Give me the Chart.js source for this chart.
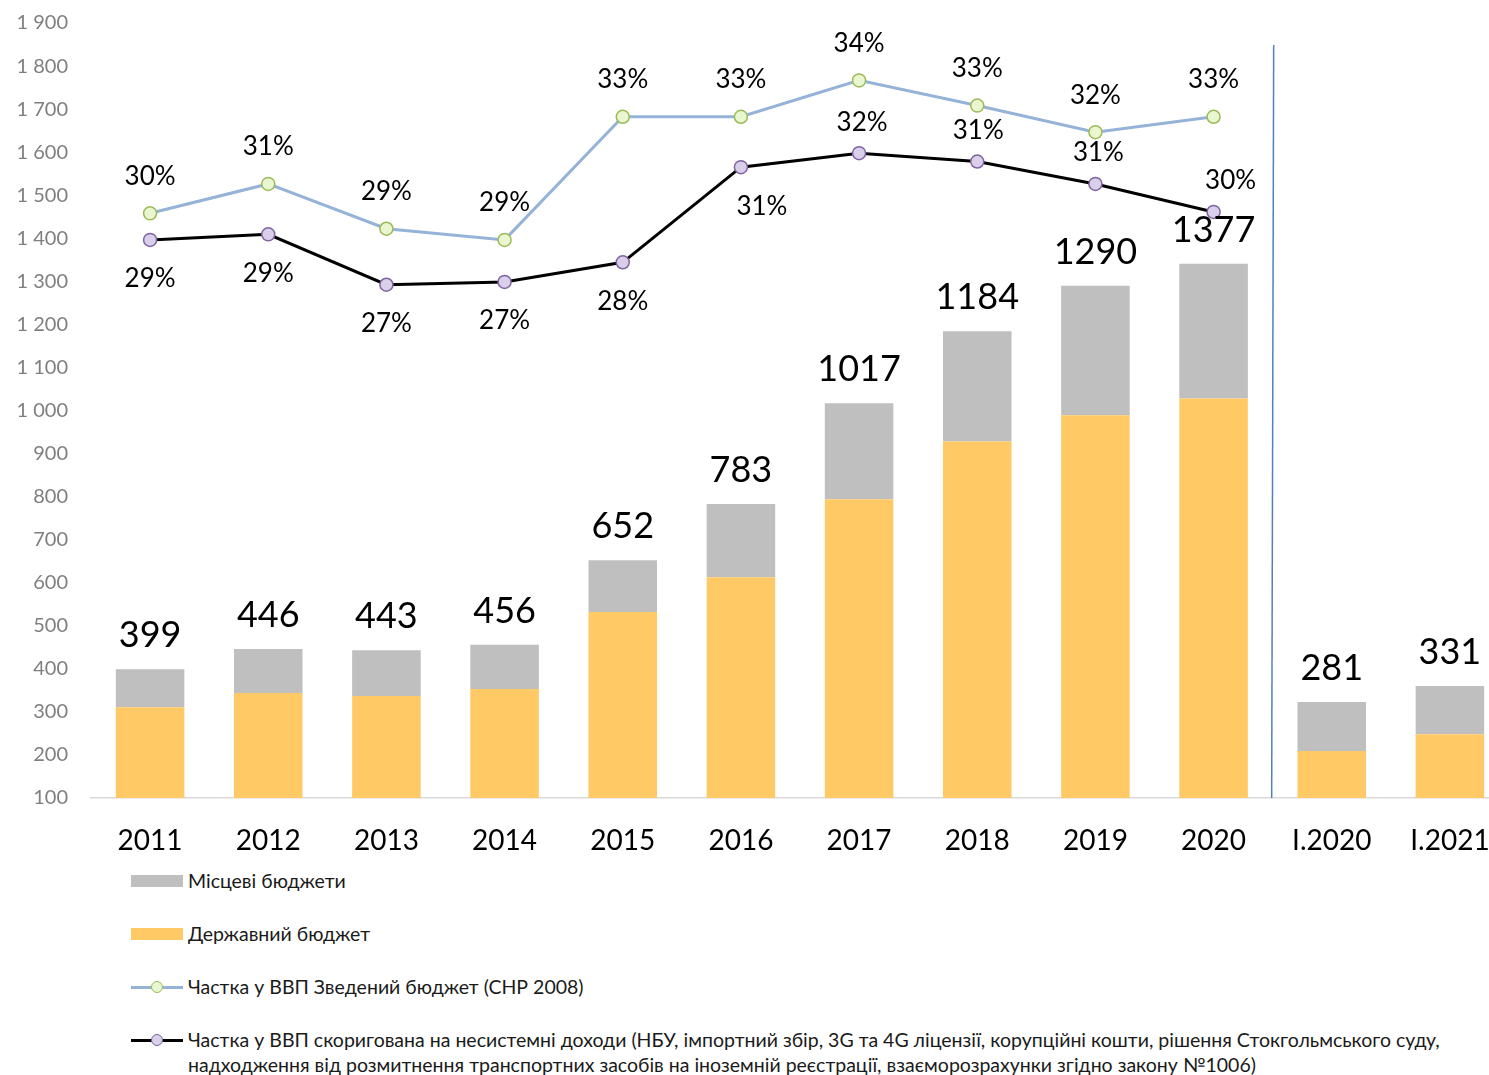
<!DOCTYPE html>
<html>
<head>
<meta charset="utf-8">
<script src="https://cdn.jsdelivr.net/npm/chart.js@4"></script>
<style>
  html, body { margin: 0; padding: 0; background: #fff; overflow: hidden; }
  #wrap { position: relative; width: 1517px; height: 1075px; }
  #budgetChart { display: block; position: relative; top: -12px; }
  #legend { position: absolute; left: 131px; top: 866px; width: 1358px; font-family: Lato, sans-serif; font-size: 19.5px; color: #1a1a1a; }
  .item { display: flex; align-items: flex-start; height: 53px; }
  .sw { width: 52px; height: 30px; flex: none; position: relative; }
  .sw .rect { position: absolute; left: 0; top: 9px; width: 52px; height: 12px; }
  .sw .line { position: absolute; left: 0; top: 14px; width: 52px; height: 3px; }
  .sw .dot { position: absolute; left: 20px; top: 9px; width: 10px; height: 10px; border-radius: 50%; border: 1.5px solid; }
  .txt { line-height: 25px; padding-top: 2px; padding-left: 5px; }
</style>
</head>
<body>
<div id="wrap">
  <canvas id="budgetChart" width="1517" height="877"></canvas>
  <div id="legend"></div>
</div>
<script>
// категорії
const labels = ['2011','2012','2013','2014','2015','2016','2017','2018','2019','2020','I.2020','I.2021'];

// млрд грн (прочитано з висоти стовпців)
const stateBudget = [311, 344, 337, 353, 532, 613, 794, 928, 989, 1028, 209, 248];
const localBudgets = [88, 102, 106, 103, 120, 170, 223, 256, 301, 313, 114, 112];
// підписи над стовпцями
const totalLabels = [399, 446, 443, 456, 652, 783, 1017, 1184, 1290, 1377, 281, 331];

// частка у ВВП, %
const shareConsolidated = [29.55, 30.6, 29.0, 28.6, 33.0, 33.0, 34.3, 33.4, 32.45, 33.0, null, null];
const shareAdjusted = [28.6, 28.8, 27.0, 27.1, 27.8, 31.2, 31.7, 31.4, 30.6, 29.6, null, null];

const yTicks = { min: 100, max: 1900, step: 100 };

// розміщення підписів лінії "скоригована"
const adjustedLabelPos = ['below','below','below','below','below','below','above','above','above','above'];
const adjustedLabelDx = [0, 0, 0, 0, 0, 21, 3, 1, 3, 17];

const FONT = 'Lato, sans-serif';

const labelsPlugin = {
  id: 'valueLabels',
  afterDatasetsDraw(chart) {
    const ctx = chart.ctx;
    ctx.save();
    ctx.fillStyle = '#000';
    ctx.textAlign = 'center';

    // підписи сум над стовпцями
    const topMeta = chart.getDatasetMeta(1);
    ctx.font = '36px ' + FONT;
    ctx.textBaseline = 'alphabetic';
    topMeta.data.forEach((bar, i) => {
      ctx.fillText(String(totalLabels[i]), bar.x, bar.y - 22);
    });

    // відсотки
    ctx.font = '26px ' + FONT;
    ctx.textBaseline = 'middle';
    chart.getDatasetMeta(2).data.forEach((pt, i) => {
      const v = shareConsolidated[i];
      if (v == null) return;
      ctx.fillText(Math.round(v) + '%', pt.x, pt.y - 37);
    });
    chart.getDatasetMeta(3).data.forEach((pt, i) => {
      const v = shareAdjusted[i];
      if (v == null) return;
      const dy = adjustedLabelPos[i] === 'above' ? -31 : 39;
      ctx.fillText(Math.round(v) + '%', pt.x + adjustedLabelDx[i], pt.y + dy);
    });
    ctx.restore();
  }
};

// вертикальна лінія між річними та квартальними даними
const separatorPlugin = {
  id: 'separator',
  afterDatasetsDraw(chart) {
    const x = chart.scales.x;
    const xs = (x.getPixelForValue(9) + x.getPixelForValue(10)) / 2;
    const ctx = chart.ctx;
    ctx.save();
    ctx.strokeStyle = '#4F81BD';
    ctx.lineWidth = 1.5;
    ctx.beginPath();
    ctx.moveTo(xs + 1, 57);
    ctx.lineTo(xs - 1, chart.chartArea.bottom);
    ctx.stroke();
    ctx.restore();
  }
};

const datasets = [
  {
    type: 'bar',
    label: 'Державний бюджет',
    data: stateBudget,
    backgroundColor: '#FFCA66',
    stack: 'b',
    order: 2,
    barPercentage: 0.58,
    categoryPercentage: 1
  },
  {
    type: 'bar',
    label: 'Місцеві бюджети',
    data: localBudgets,
    backgroundColor: '#BFBFBF',
    stack: 'b',
    order: 2,
    barPercentage: 0.58,
    categoryPercentage: 1
  },
  {
    type: 'line',
    label: 'Частка у ВВП Зведений бюджет (СНР 2008)',
    data: shareConsolidated,
    yAxisID: 'y2',
    borderColor: '#95B3D7',
    borderWidth: 3,
    pointRadius: 6.5,
    pointBorderWidth: 1.5,
    pointBackgroundColor: '#EAF6CF',
    pointBorderColor: '#9BBB59',
    tension: 0,
    order: 0
  },
  {
    type: 'line',
    label: 'Частка у ВВП скоригована на несистемні доходи (НБУ, імпортний збір, 3G та 4G ліцензії, корупційні кошти, рішення Стокгольмського суду, надходження від розмитнення транспортних засобів на іноземній реєстрації, взаєморозрахунки згідно закону №1006)',
    data: shareAdjusted,
    yAxisID: 'y2',
    borderColor: '#000000',
    borderWidth: 3,
    pointRadius: 6.5,
    pointBorderWidth: 1.5,
    pointBackgroundColor: '#D9CFEA',
    pointBorderColor: '#8064A2',
    tension: 0,
    order: 1
  }
];

const chart = new Chart(document.getElementById('budgetChart'), {
  data: { labels, datasets },
  plugins: [labelsPlugin, separatorPlugin],
  options: {
    responsive: false,
    animation: false,
    layout: { padding: { top: 10, right: 0, left: 0, bottom: 0 } },
    plugins: { legend: { display: false }, tooltip: { enabled: false } },
    scales: {
      x: {
        stacked: true,
        grid: { display: false, drawTicks: false },
        border: { display: true, color: '#D9D9D9', width: 1.5 },
        ticks: { color: '#000', font: { family: FONT, size: 28 }, padding: 26 },
        afterFit(s) { s.height = 67; }
      },
      y: {
        stacked: true,
        min: yTicks.min,
        max: yTicks.max,
        grid: { display: false, drawTicks: false },
        border: { display: false },
        ticks: {
          stepSize: yTicks.step,
          color: '#7F7F7F',
          font: { family: FONT, size: 20 },
          padding: 23,
          callback: v => String(v).replace(/\B(?=(\d{3})+(?!\d))/g, ' ')
        },
        afterFit(s) { s.width = 91; }
      },
      y2: {
        display: false,
        min: 8.66,
        max: 36.35
      }
    }
  }
});

// легенда
const legendOrder = [1, 0, 2, 3];
const legendEl = document.getElementById('legend');
legendOrder.forEach(idx => {
  const ds = datasets[idx];
  const item = document.createElement('div');
  item.className = 'item';
  const sw = document.createElement('div');
  sw.className = 'sw';
  if (ds.type === 'bar') {
    sw.innerHTML = '<div class="rect" style="background:' + ds.backgroundColor + '"></div>';
  } else {
    sw.innerHTML = '<div class="line" style="background:' + ds.borderColor + '"></div>' +
      '<div class="dot" style="background:' + ds.pointBackgroundColor + ';border-color:' + ds.pointBorderColor + '"></div>';
  }
  const txt = document.createElement('div');
  txt.className = 'txt';
  txt.textContent = ds.label;
  item.appendChild(sw);
  item.appendChild(txt);
  legendEl.appendChild(item);
});
</script>
</body>
</html>
